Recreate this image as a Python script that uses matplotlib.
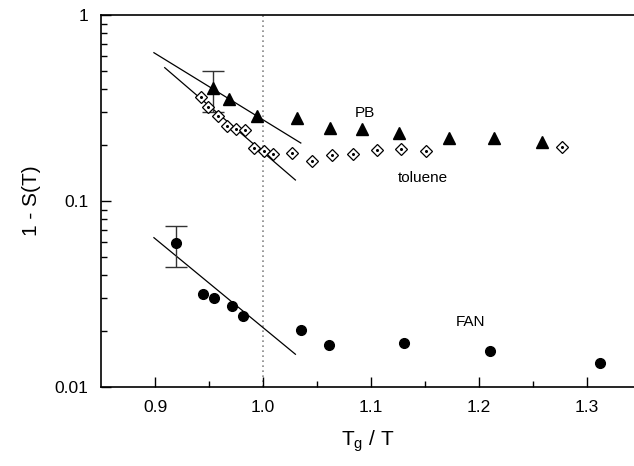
import matplotlib
matplotlib.use("Agg")
import matplotlib.pyplot as plt
from matplotlib.ticker import LogLocator, FixedLocator, NullFormatter

plt.rcParams['font.family'] = ['Liberation Sans', 'DejaVu Sans']

# PB (filled triangles)
pb_x = [0.954, 0.9685, 0.9944, 1.0315, 1.062, 1.0917, 1.126, 1.172, 1.214, 1.258]
pb_y = [0.405, 0.353, 0.286, 0.279, 0.247, 0.244, 0.232, 0.218, 0.218, 0.208]
pb_err_x = 0.954
pb_err_lo, pb_err_hi = 0.302, 0.50

# toluene (open diamonds with dot)
tol_x = [0.9426, 0.9494, 0.958, 0.967, 0.975, 0.9833, 0.9917, 1.001, 1.009,
         1.0266, 1.045, 1.0636, 1.0836, 1.1053, 1.1278, 1.1507, 1.2766]
tol_y = [0.364, 0.321, 0.286, 0.253, 0.243, 0.241, 0.1934, 0.1857, 0.1796,
         0.181, 0.1647, 0.1768, 0.179, 0.188, 0.1905, 0.1857, 0.196]

# FAN (filled circles)
fan_x = [0.919, 0.944, 0.9546, 0.971, 0.9818, 1.0349, 1.0611, 1.1306, 1.2102, 1.312]
fan_y = [0.0593, 0.0316, 0.0300, 0.0273, 0.0242, 0.0202, 0.01688, 0.01718, 0.01556, 0.0134]
fan_err_x = 0.919
fan_err_lo, fan_err_hi = 0.0443, 0.0737

# fit lines (end points)
pb_fit_x, pb_fit_y = [0.899, 1.035], [0.627, 0.205]
tol_fit_x, tol_fit_y = [0.909, 1.030], [0.521, 0.1297]
fan_fit_x, fan_fit_y = [0.899, 1.030], [0.0635, 0.0150]

fig = plt.figure(figsize=(6.34, 4.66), dpi=100)
ax = fig.add_axes([101/634, 1-387/466, 1-101/634, (387-15)/466])

ax.set_yscale('log')
ax.set_xlim(0.85, 0.85 + (634-101)/1080)
ax.set_ylim(0.01, 1)

ax.axvline(1.0, color='#888888', ls=(0, (1, 2)), lw=1.2, zorder=1)

ax.plot(pb_fit_x, pb_fit_y, color='black', lw=0.9, zorder=2)
ax.plot(tol_fit_x, tol_fit_y, color='black', lw=0.9, zorder=2)
ax.plot(fan_fit_x, fan_fit_y, color='black', lw=0.9, zorder=2)

def logmid(lo, hi):
    return (lo * hi) ** 0.5

pm = logmid(pb_err_lo, pb_err_hi)
ax.errorbar([pb_err_x], [pm], yerr=[[pm - pb_err_lo], [pb_err_hi - pm]],
            fmt='none', ecolor='#333333', elinewidth=1.0, capsize=8, capthick=1.0, zorder=3)
fm = logmid(fan_err_lo, fan_err_hi)
ax.errorbar([fan_err_x], [fm], yerr=[[fm - fan_err_lo], [fan_err_hi - fm]],
            fmt='none', ecolor='#333333', elinewidth=1.0, capsize=8, capthick=1.0, zorder=3)

ax.plot(pb_x, pb_y, ls='none', marker='^', ms=8.5, color='black', zorder=4)
ax.plot(tol_x, tol_y, ls='none', marker='D', ms=6, mfc='white', mec='black', mew=0.9, zorder=4)
ax.plot(tol_x, tol_y, ls='none', marker='o', ms=1.2, color='black', zorder=5)
ax.plot(fan_x, fan_y, ls='none', marker='o', ms=7, color='black', zorder=4)

ax.text(1.0944, 0.297, 'PB', fontsize=11, ha='center', va='center')
ax.text(1.148, 0.133, 'toluene', fontsize=11, ha='center', va='center')
ax.text(1.1917, 0.0224, 'FAN', fontsize=11, ha='center', va='center')

ax.spines['right'].set_visible(False)
for s in ['left', 'bottom', 'top']:
    ax.spines[s].set_linewidth(1.2)

ax.xaxis.set_major_locator(FixedLocator([0.9, 1.0, 1.1, 1.2, 1.3]))
ax.xaxis.set_minor_locator(FixedLocator([0.95, 1.05, 1.15, 1.25]))
ax.set_xticklabels(['0.9', '1.0', '1.1', '1.2', '1.3'])
ax.yaxis.set_major_locator(FixedLocator([0.01, 0.1, 1]))
ax.set_yticklabels(['0.01', '0.1', '1'])
ax.yaxis.set_minor_locator(LogLocator(base=10, subs=range(2, 10)))
ax.yaxis.set_minor_formatter(NullFormatter())

ax.tick_params(which='both', direction='in', top=False, right=False, labelsize=12.5, width=1.0)
ax.tick_params(which='major', length=7, pad=9)
ax.tick_params(which='minor', length=4)

ax.set_xlabel(r'T$_{\mathregular{g}}$ / T', fontsize=15, labelpad=10)
ax.set_ylabel('1 - S(T)', fontsize=15, labelpad=10)

fig.savefig('out.png', dpi=100)
